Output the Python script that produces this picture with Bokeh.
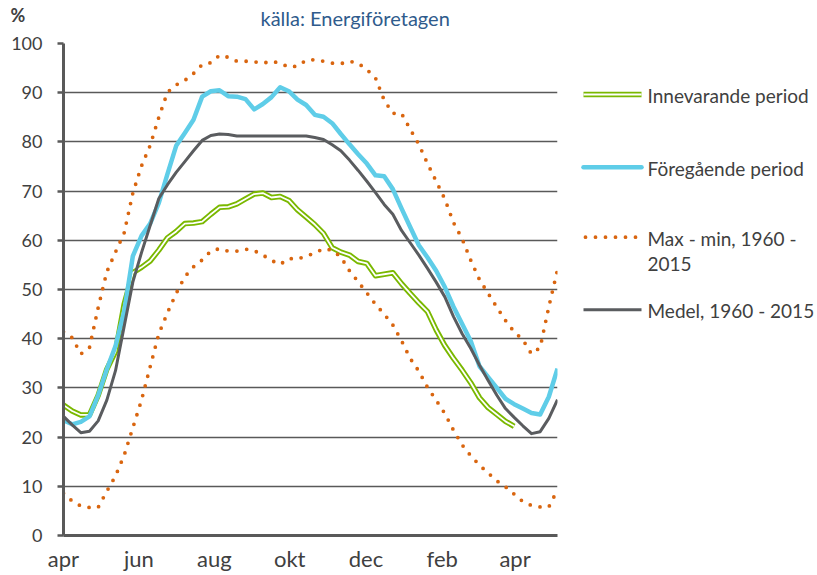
from bokeh.plotting import figure
from bokeh.models import Range1d, FixedTicker
from bokeh.layouts import row, column
from bokeh.embed import file_html
from bokeh.resources import INLINE
from bokeh.core.properties import value

# ---------------- data (weekly values, week 0 = beginning of April) ----------------
weeks_prev = list(range(58))
weeks_curr = list(range(53))

innevarande = [26.5, 25.3, 24.5, 24.5, 28.5, 33.8, 37.4, 47.0, 53.4, 54.5,
               55.8, 58.0, 60.5, 61.8, 63.4, 63.5, 63.8, 65.3, 66.7, 66.8,
               67.4, 68.4, 69.4, 69.6, 68.7, 68.9, 68.1, 66.2, 64.7, 63.2,
               61.4, 58.5, 57.6, 57.0, 55.7, 55.3, 52.8, 53.1, 53.4, 51.2,
               49.2, 47.3, 45.5, 41.8, 38.6, 36.0, 33.6, 31.0, 28.0, 26.0,
               24.6, 23.2, 22.2]

foregaende = [23.4, 22.6, 23.1, 24.2, 28.5, 33.8, 38.5, 45.5, 56.8, 60.9,
              63.4, 67.6, 73.5, 79.2, 81.8, 84.5, 89.2, 90.3, 90.5, 89.3,
              89.2, 88.7, 86.6, 87.7, 89.1, 91.1, 90.3, 88.6, 87.5, 85.5,
              85.1, 83.8, 81.6, 79.5, 77.5, 75.6, 73.2, 73.0, 70.4, 66.5,
              62.7, 59.0, 56.5, 53.8, 50.5, 46.5, 43.0, 39.5, 34.4, 32.2,
              30.0, 27.8, 26.7, 25.8, 24.9, 24.6, 28.2, 33.9]

max_1960_2015 = [41.4, 40.2, 36.9, 38.2, 46.3, 53.6, 57.6, 61.5, 69.6, 75.1,
                 79.3, 85.0, 90.1, 91.6, 92.5, 93.9, 95.7, 96.1, 97.6, 97.2,
                 96.4, 96.4, 96.3, 96.0, 96.4, 96.0, 95.2, 95.4, 96.6, 96.7,
                 96.4, 96.0, 95.9, 96.4, 96.0, 94.7, 93.0, 88.5, 85.8, 85.8,
                 82.6, 79.5, 75.6, 72.0, 68.4, 63.6, 60.3, 55.9, 52.0, 49.2,
                 46.4, 43.7, 41.4, 39.8, 36.9, 38.2, 46.5, 54.0]

min_1960_2015 = [8.6, 7.0, 6.0, 5.7, 5.7, 9.0, 12.1, 16.3, 21.9, 27.5,
                 34.3, 41.0, 45.3, 49.2, 52.6, 54.6, 56.0, 57.8, 58.3, 57.8,
                 57.8, 58.2, 57.9, 57.0, 55.9, 55.1, 56.3, 56.2, 56.8, 57.4,
                 58.3, 58.0, 56.6, 53.8, 51.6, 49.3, 47.0, 45.0, 42.8, 39.6,
                 36.0, 33.4, 30.1, 27.5, 24.8, 21.4, 18.4, 16.2, 14.3, 12.7,
                 11.1, 9.9, 8.4, 6.9, 6.1, 5.8, 5.8, 9.3]

medel_1960_2015 = [24.2, 22.5, 20.9, 21.2, 23.3, 27.5, 33.5, 42.5, 51.5, 57.5,
                   63.0, 68.5, 71.3, 73.8, 76.0, 78.2, 80.3, 81.3, 81.6, 81.5,
                   81.2, 81.2, 81.2, 81.2, 81.2, 81.2, 81.2, 81.2, 81.2, 80.9,
                   80.5, 79.4, 78.2, 76.3, 74.2, 72.0, 69.7, 67.3, 65.3, 62.0,
                   59.5, 57.0, 54.3, 51.5, 48.5, 44.5, 41.0, 38.0, 34.6, 31.5,
                   28.5, 25.8, 24.0, 22.3, 20.7, 21.1, 23.8, 27.6]

month_ticks = [0, 8.7, 17.4, 26.1, 34.9, 43.7, 52.1]
month_labels = ["apr", "jun", "aug", "okt", "dec", "feb", "apr"]
y_ticks = list(range(0, 101, 10))

legend_labels = ["Innevarande period", "Föregående period",
                 "Max - min, 1960 -\n2015", "Medel, 1960 - 2015"]

title_text = "källa: Energiföretagen"
unit_text = "%"

# ---------------- styles ----------------
GREEN = "#7AB800"
CYAN = "#5FCDE8"
ORANGE = "#D9650F"
GRAY = "#5A5C5F"
AXIS = "#595959"
TEXT = "#404040"
FONT = "Lato"


def bare(fig):
    fig.outline_line_color = None
    fig.xgrid.visible = False
    fig.ygrid.visible = False
    fig.background_fill_color = "white"
    fig.border_fill_color = "white"
    return fig


# ---------------- header strip (unit + source) ----------------
header = bare(figure(width=817, height=33,
                     x_range=Range1d(0, 817), y_range=Range1d(33, 0),
                     output_backend="svg", toolbar_location=None,
                     x_axis_location=None, y_axis_location=None,
                     min_border_left=0, min_border_right=0,
                     min_border_top=0, min_border_bottom=0))
header.text(x=[17.5], y=[14], text=[unit_text], text_font=value(FONT),
            text_font_size="18px", text_font_style="bold", text_color=TEXT,
            text_align="center", text_baseline="middle")
header.text(x=[260], y=[17], text=[title_text], text_font=value(FONT),
            text_font_size="20px", text_color="#2F5B8C",
            text_align="left", text_baseline="middle")

# ---------------- main chart ----------------
p = figure(width=568, height=542,
           x_range=Range1d(0, 57), y_range=Range1d(0, 100),
           output_backend="svg", toolbar_location=None,
           min_border_left=63, min_border_right=11,
           min_border_top=10, min_border_bottom=40)
p.outline_line_color = None
p.background_fill_color = "white"
p.border_fill_color = "white"

p.xgrid.visible = False
p.ygrid.ticker = FixedTicker(ticks=y_ticks)
p.ygrid.grid_line_color = AXIS
p.ygrid.grid_line_width = 1.4

p.yaxis.ticker = FixedTicker(ticks=y_ticks)
p.yaxis.axis_line_color = AXIS
p.yaxis.axis_line_width = 3
p.yaxis.major_tick_line_color = AXIS
p.yaxis.major_tick_line_width = 2.5
p.yaxis.major_tick_out = 6
p.yaxis.major_tick_in = 0
p.yaxis.minor_tick_out = 0
p.yaxis.minor_tick_in = 0
p.yaxis.major_label_standoff = 15
p.yaxis.major_label_text_font = FONT
p.yaxis.major_label_text_font_size = "18px"
p.yaxis.major_label_text_color = TEXT

p.xaxis.ticker = FixedTicker(ticks=month_ticks)
p.xaxis.major_label_overrides = {t: lab for t, lab in zip(month_ticks, month_labels)}
p.xaxis.axis_line_color = AXIS
p.xaxis.axis_line_width = 3
p.xaxis.major_tick_out = 0
p.xaxis.major_tick_in = 0
p.xaxis.minor_tick_out = 0
p.xaxis.minor_tick_in = 0
p.xaxis.major_label_standoff = 9
p.xaxis.major_label_text_font = FONT
p.xaxis.major_label_text_font_size = "22px"
p.xaxis.major_label_text_color = TEXT

# series (drawn in legend order, later ones on top)
p.line(weeks_curr, innevarande, line_color=GREEN, line_width=5.5, line_join="round")
p.line(weeks_curr, innevarande, line_color="white", line_width=1.8, line_join="round")
p.line(weeks_prev, foregaende, line_color=CYAN, line_width=4.5, line_join="round")
p.line(weeks_prev, max_1960_2015, line_color=ORANGE, line_width=3.8,
       line_dash="0 10", line_cap="round")
p.line(weeks_prev, min_1960_2015, line_color=ORANGE, line_width=3.8,
       line_dash="0 10", line_cap="round")
p.line(weeks_prev, medel_1960_2015, line_color=GRAY, line_width=3, line_join="round")

# ---------------- legend panel (coordinates in page pixels) ----------------
lg = bare(figure(width=249, height=542,
                 x_range=Range1d(568, 817), y_range=Range1d(535, 43),
                 output_backend="svg", toolbar_location=None,
                 x_axis_location=None, y_axis_location=None,
                 min_border_left=0, min_border_right=0,
                 min_border_top=10, min_border_bottom=40))

key_rows = [94, 166.7, 236.7, 309.3]
styles = [
    [dict(line_color=GREEN, line_width=5.5), dict(line_color="white", line_width=1.8)],
    [dict(line_color=CYAN, line_width=4.5, line_cap="round")],
    [dict(line_color=ORANGE, line_width=3.8, line_dash="0 10", line_cap="round")],
    [dict(line_color=GRAY, line_width=3)],
]
tx, ty, tt = [], [], []
for label, yk, st in zip(legend_labels, key_rows, styles):
    xs = [585, 636] if st[0].get("line_dash") else [583, 641]
    for s in st:
        lg.line(xs, [yk, yk], **s)
    for i, line_txt in enumerate(label.split("\n")):
        tx.append(647)
        ty.append(yk + 1 + i * 25.5)
        tt.append(line_txt)
lg.text(x=tx, y=ty, text=tt, text_font=value(FONT), text_font_size="19px",
        text_color=TEXT, text_baseline="middle", text_align="left")

layout = column(header, row(p, lg))
open("out.html", "w").write(file_html(layout, INLINE))
